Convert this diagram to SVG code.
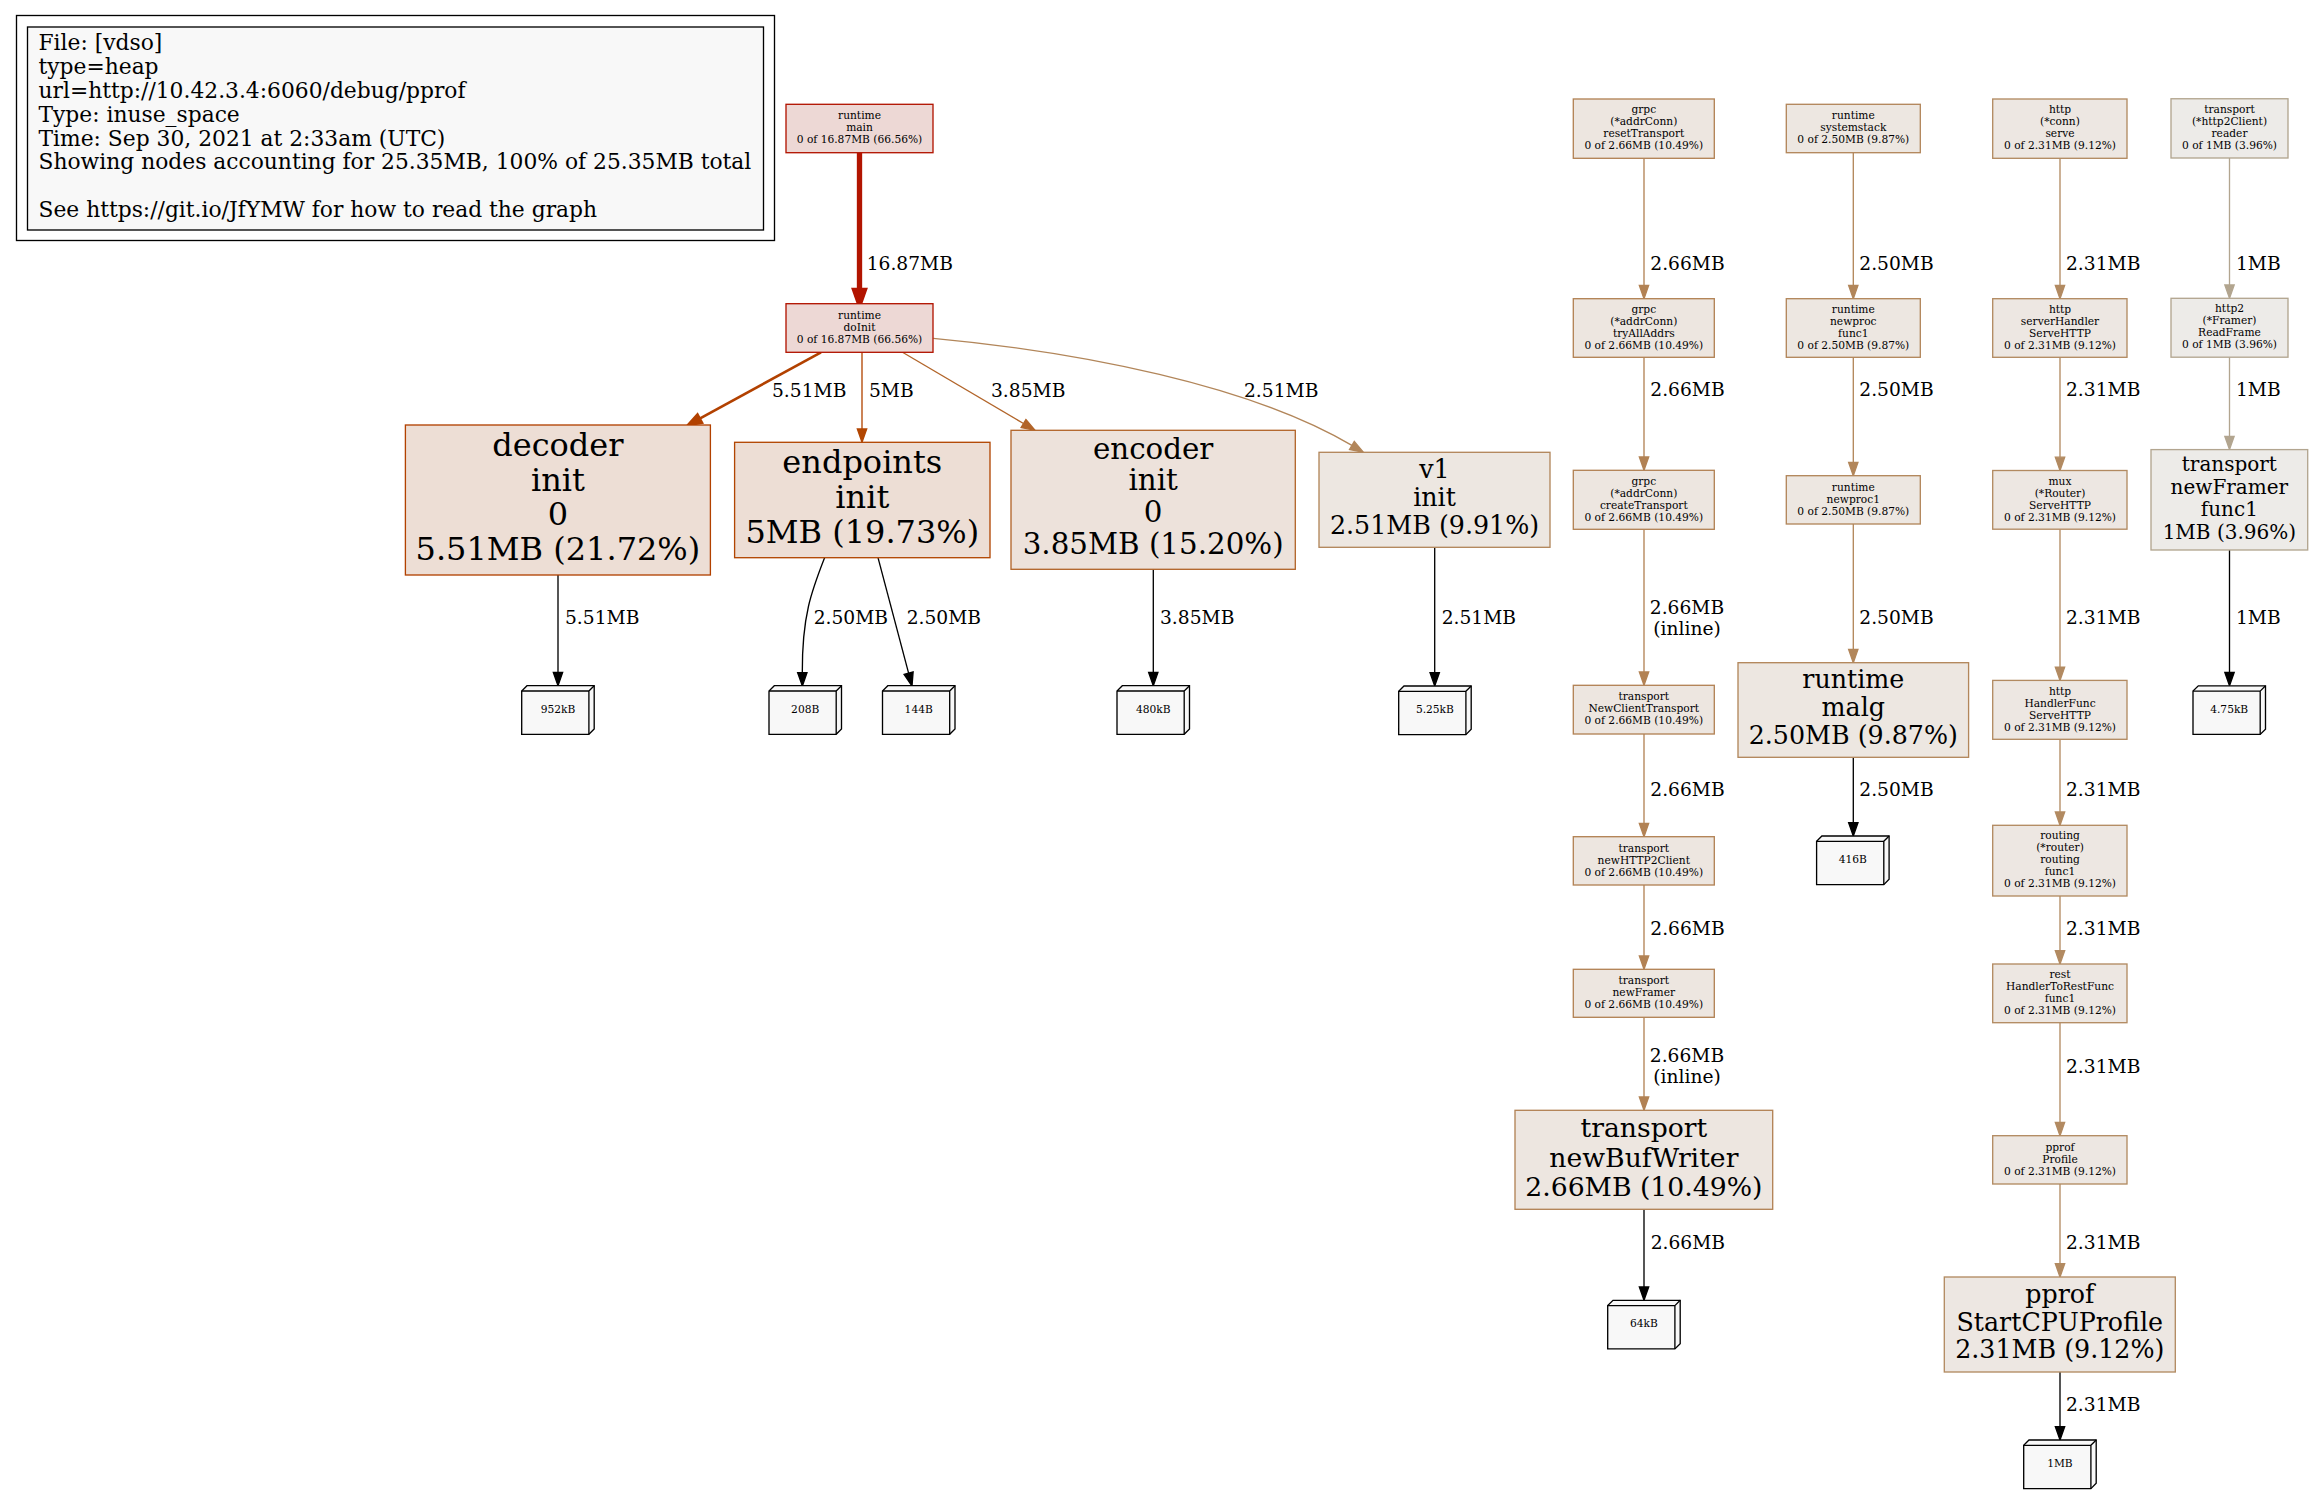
<svg xmlns="http://www.w3.org/2000/svg" xmlns:xlink="http://www.w3.org/1999/xlink" width="2313" height="1493" viewBox="0 0 2313 1493">
<style>
text{font-family:"DejaVu Serif",serif;fill:#000}
.nd text{text-anchor:middle}
.s{font-size:10.67px}
.el{font-size:18.67px}
.lg{font-size:21.8px}
rect.b{stroke-width:1.33}
.rt{fill:#edd8d5;stroke:#b21400}
.dec{fill:#edded5;stroke:#b24100}
.end{fill:#edded5;stroke:#b24602}
.enc{fill:#ede2db;stroke:#b2652a}
.v1{fill:#ede7e1;stroke:#b2865a}
.grpc{fill:#ede6e0;stroke:#b28254}
.run{fill:#ede7e1;stroke:#b2865a}
.http{fill:#ede7e2;stroke:#b28a61}
.tr{fill:#edebe8;stroke:#b2a58f}
.leaf{fill:#f8f8f8;stroke:#000;stroke-width:1.33}
.e{fill:none;stroke-width:1.33}
.e-main{stroke:#b21400;stroke-width:5.33}
.e-dec{stroke:#b24100;stroke-width:2.67}
.e-end{stroke:#b24602}
.e-enc{stroke:#b2652a}
.e-v1{stroke:#b2865a}
.e-grpc{stroke:#b28254}
.e-run{stroke:#b2865a}
.e-http{stroke:#b28a61}
.e-tr{stroke:#b2a58f}
.e-leaf{stroke:#000}
</style>
<defs>
<!-- 3D box used for the allocation-size leaves (72.5 x 48.6, depth 5.3) -->
<g id="box3d">
<path class="leaf" d="M5.3,0 H72.5 V43.3 L67.2,48.6 H0 V5.3 Z"/>
<path class="leaf" fill="none" d="M67.2,5.3 H0 M67.2,5.3 V48.6 M67.2,5.3 L72.5,0"/>
</g>
<marker id="m-main" markerUnits="userSpaceOnUse" orient="auto" refX="0" refY="0" overflow="visible"><path d="M0,-4.67 L13.3,0 L0,4.67 Z" fill="#b21400" stroke="#b21400" stroke-width="5.33"/></marker>
<marker id="m-dec" markerUnits="userSpaceOnUse" orient="auto" refX="0" refY="0" overflow="visible"><path d="M0,-4.67 L13.3,0 L0,4.67 Z" fill="#b24100" stroke="#b24100" stroke-width="2.67"/></marker>
<marker id="m-end" markerUnits="userSpaceOnUse" orient="auto" refX="0" refY="0" overflow="visible"><path d="M0,-4.67 L13.3,0 L0,4.67 Z" fill="#b24602" stroke="#b24602" stroke-width="1.33"/></marker>
<marker id="m-enc" markerUnits="userSpaceOnUse" orient="auto" refX="0" refY="0" overflow="visible"><path d="M0,-4.67 L13.3,0 L0,4.67 Z" fill="#b2652a" stroke="#b2652a" stroke-width="1.33"/></marker>
<marker id="m-v1" markerUnits="userSpaceOnUse" orient="auto" refX="0" refY="0" overflow="visible"><path d="M0,-4.67 L13.3,0 L0,4.67 Z" fill="#b2865a" stroke="#b2865a" stroke-width="1.33"/></marker>
<marker id="m-grpc" markerUnits="userSpaceOnUse" orient="auto" refX="0" refY="0" overflow="visible"><path d="M0,-4.67 L13.3,0 L0,4.67 Z" fill="#b28254" stroke="#b28254" stroke-width="1.33"/></marker>
<marker id="m-http" markerUnits="userSpaceOnUse" orient="auto" refX="0" refY="0" overflow="visible"><path d="M0,-4.67 L13.3,0 L0,4.67 Z" fill="#b28a61" stroke="#b28a61" stroke-width="1.33"/></marker>
<marker id="m-tr" markerUnits="userSpaceOnUse" orient="auto" refX="0" refY="0" overflow="visible"><path d="M0,-4.67 L13.3,0 L0,4.67 Z" fill="#b2a58f" stroke="#b2a58f" stroke-width="1.33"/></marker>
<marker id="m-leaf" markerUnits="userSpaceOnUse" orient="auto" refX="0" refY="0" overflow="visible"><path d="M0,-4.67 L13.3,0 L0,4.67 Z" fill="#000" stroke="#000" stroke-width="1.33"/></marker>
</defs>
<rect width="2313" height="1493" fill="#fff"/>

<!-- legend cluster -->
<g id="legend">
<rect x="16.5" y="15.5" width="758" height="225" fill="none" stroke="#000" stroke-width="1.33"/>
<rect x="27.5" y="27" width="736" height="203" fill="#f8f8f8" stroke="#000" stroke-width="1.33"/>
<text class="lg" x="38.5" y="50.3">File: [vdso]</text>
<text class="lg" x="38.5" y="74.1">type=heap</text>
<text class="lg" x="38.5" y="97.9">url=http://10.42.3.4:6060/debug/pprof</text>
<text class="lg" x="38.5" y="121.7">Type: inuse_space</text>
<text class="lg" x="38.5" y="145.5">Time: Sep 30, 2021 at 2:33am (UTC)</text>
<text class="lg" x="38.5" y="169.3">Showing nodes accounting for 25.35MB, 100% of 25.35MB total</text>
<text class="lg" x="38.5" y="216.9">See https://git.io/JfYMW for how to read the graph</text>
</g>

<!-- connectors -->
<g id="edges">
<path class="e e-main" d="M859.5,152.7 V290.4" marker-end="url(#m-main)"/>
<path class="e e-dec" d="M821,352.3 L699.7,418.6" marker-end="url(#m-dec)"/>
<path class="e e-end" d="M862,352.3 V429" marker-end="url(#m-end)"/>
<path class="e e-enc" d="M902.5,352.3 L1023.5,423.55" marker-end="url(#m-enc)"/>
<path class="e e-v1" d="M933.3,338.3 C1080,352 1250,385 1351.9,445.4" marker-end="url(#m-v1)"/>
<path class="e e-leaf" d="M558,575 V672.4" marker-end="url(#m-leaf)"/>
<path class="e e-leaf" d="M824.6,557.7 C812,590 802,615 802.3,672.7" marker-end="url(#m-leaf)"/>
<path class="e e-leaf" d="M878,557.7 L908.6,673.1" marker-end="url(#m-leaf)"/>
<path class="e e-leaf" d="M1153.3,569.3 V672.4" marker-end="url(#m-leaf)"/>
<path class="e e-leaf" d="M1434.7,547.3 V672.7" marker-end="url(#m-leaf)"/>

<path class="e e-grpc" d="M1644,158.3 V285.4" marker-end="url(#m-grpc)"/>
<path class="e e-grpc" d="M1644,357.3 V457" marker-end="url(#m-grpc)"/>
<path class="e e-grpc" d="M1644,529.3 V672" marker-end="url(#m-grpc)"/>
<path class="e e-grpc" d="M1644,734 V823.4" marker-end="url(#m-grpc)"/>
<path class="e e-grpc" d="M1644,885 V956" marker-end="url(#m-grpc)"/>
<path class="e e-grpc" d="M1644,1017.3 V1097" marker-end="url(#m-grpc)"/>
<path class="e e-leaf" d="M1644,1209.3 V1287" marker-end="url(#m-leaf)"/>

<path class="e e-run" d="M1853.3,152.7 V285.4" marker-end="url(#m-v1)"/>
<path class="e e-run" d="M1853.3,357.3 V462.4" marker-end="url(#m-v1)"/>
<path class="e e-run" d="M1853.3,524 V649.4" marker-end="url(#m-v1)"/>
<path class="e e-leaf" d="M1853.3,757.3 V822.7" marker-end="url(#m-leaf)"/>

<path class="e e-http" d="M2060,158.3 V285.4" marker-end="url(#m-http)"/>
<path class="e e-http" d="M2060,357.3 V457.2" marker-end="url(#m-http)"/>
<path class="e e-http" d="M2060,529.2 V667.1" marker-end="url(#m-http)"/>
<path class="e e-http" d="M2060,739.3 V812" marker-end="url(#m-http)"/>
<path class="e e-http" d="M2060,896 V950.7" marker-end="url(#m-http)"/>
<path class="e e-http" d="M2060,1022.7 V1122.4" marker-end="url(#m-http)"/>
<path class="e e-http" d="M2060,1184 V1263.7" marker-end="url(#m-http)"/>
<path class="e e-leaf" d="M2060,1372 V1426.7" marker-end="url(#m-leaf)"/>

<path class="e e-tr" d="M2229.5,158 V285" marker-end="url(#m-tr)"/>
<path class="e e-tr" d="M2229.5,357.2 V436.3" marker-end="url(#m-tr)"/>
<path class="e e-leaf" d="M2229.5,550 V672.5" marker-end="url(#m-leaf)"/>

<g class="el">
<text x="866.7" y="270">16.87MB</text>
<text x="772" y="396.5">5.51MB</text>
<text x="869" y="396.5">5MB</text>
<text x="991" y="396.5">3.85MB</text>
<text x="1244" y="396.5">2.51MB</text>
<text x="565" y="624">5.51MB</text>
<text x="813.7" y="624">2.50MB</text>
<text x="906.7" y="624">2.50MB</text>
<text x="1160" y="624">3.85MB</text>
<text x="1441.7" y="624">2.51MB</text>

<text x="1650.3" y="270">2.66MB</text>
<text x="1650.3" y="396">2.66MB</text>
<text x="1687" y="613.8" text-anchor="middle">2.66MB</text>
<text x="1687" y="634.8" text-anchor="middle">(inline)</text>
<text x="1650.3" y="795.8">2.66MB</text>
<text x="1650.3" y="934.8">2.66MB</text>
<text x="1687" y="1061.8" text-anchor="middle">2.66MB</text>
<text x="1687" y="1082.8" text-anchor="middle">(inline)</text>
<text x="1650.7" y="1248.5">2.66MB</text>

<text x="1859.3" y="270">2.50MB</text>
<text x="1859.3" y="396">2.50MB</text>
<text x="1859.3" y="624">2.50MB</text>
<text x="1859.3" y="795.8">2.50MB</text>

<text x="2066" y="270">2.31MB</text>
<text x="2066" y="396">2.31MB</text>
<text x="2066" y="624">2.31MB</text>
<text x="2066" y="795.8">2.31MB</text>
<text x="2066" y="934.8">2.31MB</text>
<text x="2066" y="1072.5">2.31MB</text>
<text x="2066" y="1248.5">2.31MB</text>
<text x="2066" y="1410.8">2.31MB</text>

<text x="2236" y="270">1MB</text>
<text x="2236" y="396">1MB</text>
<text x="2236" y="624">1MB</text>
</g>
</g>

<!-- nodes -->
<g id="N_runtime_main" class="nd">
<rect class="b rt" x="786" y="104.3" width="147" height="48.4"/>
<text class="s" x="859.5" y="119.2">runtime</text><text class="s" x="859.5" y="131.2">main</text><text class="s" x="859.5" y="143.2">0 of 16.87MB (66.56%)</text>
</g>
<g id="N_runtime_doInit" class="nd">
<rect class="b rt" x="786" y="303.7" width="147" height="48.6"/>
<text class="s" x="859.5" y="318.7">runtime</text><text class="s" x="859.5" y="330.7">doInit</text><text class="s" x="859.5" y="342.7">0 of 16.87MB (66.56%)</text>
</g>
<g id="N_decoder_init_0" class="nd" font-size="32">
<rect class="b dec" x="405.4" y="425" width="305" height="150"/>
<text x="557.9" y="456.1">decoder</text><text x="557.9" y="490.7">init</text><text x="557.9" y="525.3">0</text><text x="557.9" y="559.9">5.51MB (21.72%)</text>
</g>
<g id="N_endpoints_init" class="nd" font-size="32">
<rect class="b end" x="734.6" y="442.3" width="255.4" height="115.4"/>
<text x="862.3" y="473.4">endpoints</text><text x="862.3" y="508">init</text><text x="862.3" y="542.6">5MB (19.73%)</text>
</g>
<g id="N_encoder_init_0" class="nd" font-size="29.33">
<rect class="b enc" x="1011" y="430.3" width="284.3" height="139"/>
<text x="1153.15" y="458.75">encoder</text><text x="1153.15" y="490.45">init</text><text x="1153.15" y="522.15">0</text><text x="1153.15" y="553.85">3.85MB (15.20%)</text>
</g>
<g id="N_v1_init" class="nd" font-size="25.33">
<rect class="b v1" x="1319" y="452.3" width="231" height="95"/>
<text x="1434.5" y="478">v1</text><text x="1434.5" y="505.8">init</text><text x="1434.5" y="533.6">2.51MB (9.91%)</text>
</g>

<g id="L_952kB" class="nd"><use xlink:href="#box3d" x="521.7" y="685.7"/><text class="s" x="558" y="712.8">952kB</text></g>
<g id="L_208B" class="nd"><use xlink:href="#box3d" x="769" y="685.7"/><text class="s" x="805.2" y="712.8">208B</text></g>
<g id="L_144B" class="nd"><use xlink:href="#box3d" x="882.5" y="685.7"/><text class="s" x="918.7" y="712.8">144B</text></g>
<g id="L_480kB" class="nd"><use xlink:href="#box3d" x="1117" y="685.7"/><text class="s" x="1153.2" y="712.8">480kB</text></g>
<g id="L_5.25kB" class="nd"><use xlink:href="#box3d" x="1398.7" y="686"/><text class="s" x="1434.9" y="713.1">5.25kB</text></g>

<!-- grpc / transport chain -->
<g id="N_grpc_resetTransport" class="nd">
<rect class="b grpc" x="1573.3" y="99" width="141" height="59.3"/>
<text class="s" x="1643.8" y="113.35">grpc</text><text class="s" x="1643.8" y="125.35">(*addrConn)</text><text class="s" x="1643.8" y="137.35">resetTransport</text><text class="s" x="1643.8" y="149.35">0 of 2.66MB (10.49%)</text>
</g>
<g id="N_grpc_tryAllAddrs" class="nd">
<rect class="b grpc" x="1573.3" y="298.7" width="141" height="58.6"/>
<text class="s" x="1643.8" y="312.7">grpc</text><text class="s" x="1643.8" y="324.7">(*addrConn)</text><text class="s" x="1643.8" y="336.7">tryAllAddrs</text><text class="s" x="1643.8" y="348.7">0 of 2.66MB (10.49%)</text>
</g>
<g id="N_grpc_createTransport" class="nd">
<rect class="b grpc" x="1573.3" y="470.3" width="141" height="59"/>
<text class="s" x="1643.8" y="484.5">grpc</text><text class="s" x="1643.8" y="496.5">(*addrConn)</text><text class="s" x="1643.8" y="508.5">createTransport</text><text class="s" x="1643.8" y="520.5">0 of 2.66MB (10.49%)</text>
</g>
<g id="N_transport_NewClientTransport" class="nd">
<rect class="b grpc" x="1573.3" y="685.3" width="141" height="48.7"/>
<text class="s" x="1643.8" y="700.35">transport</text><text class="s" x="1643.8" y="712.35">NewClientTransport</text><text class="s" x="1643.8" y="724.35">0 of 2.66MB (10.49%)</text>
</g>
<g id="N_transport_newHTTP2Client" class="nd">
<rect class="b grpc" x="1573.3" y="836.7" width="141" height="48.3"/>
<text class="s" x="1643.8" y="851.55">transport</text><text class="s" x="1643.8" y="863.55">newHTTP2Client</text><text class="s" x="1643.8" y="875.55">0 of 2.66MB (10.49%)</text>
</g>
<g id="N_transport_newFramer" class="nd">
<rect class="b grpc" x="1573.3" y="969.3" width="141" height="48"/>
<text class="s" x="1643.8" y="984">transport</text><text class="s" x="1643.8" y="996">newFramer</text><text class="s" x="1643.8" y="1008">0 of 2.66MB (10.49%)</text>
</g>
<g id="N_transport_newBufWriter" class="nd" font-size="26.67">
<rect class="b grpc" x="1515" y="1110.3" width="257.7" height="99"/>
<text x="1643.85" y="1137.1">transport</text><text x="1643.85" y="1166.7">newBufWriter</text><text x="1643.85" y="1196.3">2.66MB (10.49%)</text>
</g>
<g id="L_64kB" class="nd"><use xlink:href="#box3d" x="1607.7" y="1300.3"/><text class="s" x="1643.9" y="1327.4">64kB</text></g>

<!-- runtime chain -->
<g id="N_runtime_systemstack" class="nd">
<rect class="b run" x="1786.3" y="104.3" width="134" height="48.4"/>
<text class="s" x="1853.3" y="119.2">runtime</text><text class="s" x="1853.3" y="131.2">systemstack</text><text class="s" x="1853.3" y="143.2">0 of 2.50MB (9.87%)</text>
</g>
<g id="N_runtime_newproc_func1" class="nd">
<rect class="b run" x="1786.3" y="298.7" width="134" height="58.6"/>
<text class="s" x="1853.3" y="312.7">runtime</text><text class="s" x="1853.3" y="324.7">newproc</text><text class="s" x="1853.3" y="336.7">func1</text><text class="s" x="1853.3" y="348.7">0 of 2.50MB (9.87%)</text>
</g>
<g id="N_runtime_newproc1" class="nd">
<rect class="b run" x="1786.3" y="475.7" width="134" height="48.3"/>
<text class="s" x="1853.3" y="490.55">runtime</text><text class="s" x="1853.3" y="502.55">newproc1</text><text class="s" x="1853.3" y="514.55">0 of 2.50MB (9.87%)</text>
</g>
<g id="N_runtime_malg" class="nd" font-size="25.33">
<rect class="b run" x="1738" y="662.7" width="230.6" height="94.6"/>
<text x="1853.3" y="688.2">runtime</text><text x="1853.3" y="716">malg</text><text x="1853.3" y="743.8">2.50MB (9.87%)</text>
</g>
<g id="L_416B" class="nd"><use xlink:href="#box3d" x="1816.6" y="836"/><text class="s" x="1852.8" y="863.1">416B</text></g>

<!-- http chain -->
<g id="N_http_conn_serve" class="nd">
<rect class="b http" x="1992.7" y="99" width="134.3" height="59.3"/>
<text class="s" x="2060" y="113.35">http</text><text class="s" x="2060" y="125.35">(*conn)</text><text class="s" x="2060" y="137.35">serve</text><text class="s" x="2060" y="149.35">0 of 2.31MB (9.12%)</text>
</g>
<g id="N_http_serverHandler_ServeHTTP" class="nd">
<rect class="b http" x="1992.7" y="298.7" width="134.3" height="58.6"/>
<text class="s" x="2060" y="312.7">http</text><text class="s" x="2060" y="324.7">serverHandler</text><text class="s" x="2060" y="336.7">ServeHTTP</text><text class="s" x="2060" y="348.7">0 of 2.31MB (9.12%)</text>
</g>
<g id="N_mux_Router_ServeHTTP" class="nd">
<rect class="b http" x="1992.7" y="470.5" width="134.3" height="58.7"/>
<text class="s" x="2060" y="484.55">mux</text><text class="s" x="2060" y="496.55">(*Router)</text><text class="s" x="2060" y="508.55">ServeHTTP</text><text class="s" x="2060" y="520.55">0 of 2.31MB (9.12%)</text>
</g>
<g id="N_http_HandlerFunc_ServeHTTP" class="nd">
<rect class="b http" x="1992.7" y="680.4" width="134.3" height="58.9"/>
<text class="s" x="2060" y="694.55">http</text><text class="s" x="2060" y="706.55">HandlerFunc</text><text class="s" x="2060" y="718.55">ServeHTTP</text><text class="s" x="2060" y="730.55">0 of 2.31MB (9.12%)</text>
</g>
<g id="N_routing_router_routing_func1" class="nd">
<rect class="b http" x="1992.7" y="825.3" width="134.3" height="70.7"/>
<text class="s" x="2060" y="839.35">routing</text><text class="s" x="2060" y="851.35">(*router)</text><text class="s" x="2060" y="863.35">routing</text><text class="s" x="2060" y="875.35">func1</text><text class="s" x="2060" y="887.35">0 of 2.31MB (9.12%)</text>
</g>
<g id="N_rest_HandlerToRestFunc_func1" class="nd">
<rect class="b http" x="1992.7" y="964" width="134.3" height="58.7"/>
<text class="s" x="2060" y="978.05">rest</text><text class="s" x="2060" y="990.05">HandlerToRestFunc</text><text class="s" x="2060" y="1002.05">func1</text><text class="s" x="2060" y="1014.05">0 of 2.31MB (9.12%)</text>
</g>
<g id="N_pprof_Profile" class="nd">
<rect class="b http" x="1992.7" y="1135.7" width="134.3" height="48.3"/>
<text class="s" x="2060" y="1150.55">pprof</text><text class="s" x="2060" y="1162.55">Profile</text><text class="s" x="2060" y="1174.55">0 of 2.31MB (9.12%)</text>
</g>
<g id="N_pprof_StartCPUProfile" class="nd" font-size="25.33">
<rect class="b http" x="1944.3" y="1277" width="231" height="95"/>
<text x="2059.8" y="1303.3">pprof</text><text x="2059.8" y="1330.8">StartCPUProfile</text><text x="2059.8" y="1358.3">2.31MB (9.12%)</text>
</g>
<g id="L_1MB" class="nd"><use xlink:href="#box3d" x="2023.7" y="1440"/><text class="s" x="2059.9" y="1467.1">1MB</text></g>

<!-- http2 reader chain -->
<g id="N_transport_http2Client_reader" class="nd">
<rect class="b tr" x="2171" y="98.75" width="117" height="59.25"/>
<text class="s" x="2229.5" y="113.1">transport</text><text class="s" x="2229.5" y="125.1">(*http2Client)</text><text class="s" x="2229.5" y="137.1">reader</text><text class="s" x="2229.5" y="149.1">0 of 1MB (3.96%)</text>
</g>
<g id="N_http2_Framer_ReadFrame" class="nd">
<rect class="b tr" x="2171" y="298.3" width="117" height="58.9"/>
<text class="s" x="2229.5" y="312.45">http2</text><text class="s" x="2229.5" y="324.45">(*Framer)</text><text class="s" x="2229.5" y="336.45">ReadFrame</text><text class="s" x="2229.5" y="348.45">0 of 1MB (3.96%)</text>
</g>
<g id="N_transport_newFramer_func1" class="nd" font-size="20">
<rect class="b tr" x="2151" y="449.6" width="156.7" height="100.4"/>
<text x="2229.35" y="471.4">transport</text><text x="2229.35" y="493.8">newFramer</text><text x="2229.35" y="516.2">func1</text><text x="2229.35" y="538.6">1MB (3.96%)</text>
</g>
<g id="L_4.75kB" class="nd"><use xlink:href="#box3d" x="2193" y="685.8"/><text class="s" x="2229.2" y="712.9">4.75kB</text></g>
</svg>
